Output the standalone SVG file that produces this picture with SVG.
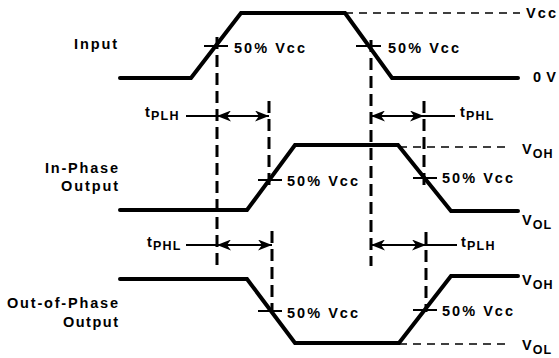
<svg xmlns="http://www.w3.org/2000/svg" width="559" height="358" viewBox="0 0 559 358">
<defs>
<style>
text{font-family:"Liberation Sans",Arial,sans-serif;font-weight:bold;font-size:14.5px;fill:#000}
.wave{fill:none;stroke:#000;stroke-width:4;stroke-linecap:round;stroke-linejoin:miter}
.ref{fill:none;stroke:#000;stroke-width:1.6;stroke-dasharray:8 6}
.vd{fill:none;stroke:#000;stroke-width:3;stroke-dasharray:12 6}
.tick{stroke:#000;stroke-width:2}
.arr{stroke:#000;stroke-width:2;fill:none;marker-start:url(#ah);marker-end:url(#ah)}
.lead{stroke:#000;stroke-width:2}
.sub{font-size:12.5px}
</style>
<marker id="ah" viewBox="0 0 14 11" refX="14" refY="5.5" markerWidth="14" markerHeight="11" markerUnits="userSpaceOnUse" orient="auto-start-reverse">
<path d="M0,0 L14,5.5 L0,11 L4,5.5 z" fill="#000"/>
</marker>
</defs>

<g id="input">
<polyline class="wave" points="120,78 191,78 241,13 345,13 392,78 518,78"/>
<line class="ref" x1="345" y1="13" x2="520" y2="13"/>
<line class="tick" x1="204" y1="46" x2="228" y2="46"/>
<line class="tick" x1="356" y1="46" x2="381" y2="46"/>
<text x="74" y="49" textLength="43" lengthAdjust="spacing">Input</text>
<text x="234" y="53" textLength="71" lengthAdjust="spacing">50% Vcc</text>
<text x="388" y="53" textLength="71" lengthAdjust="spacing">50% Vcc</text>
<text x="526" y="18" textLength="30" lengthAdjust="spacing">Vcc</text>
<text x="533" y="82" textLength="23" lengthAdjust="spacing">0 V</text>
</g>

<g id="in-phase-output">
<polyline class="wave" points="120,210 247,210 295,145 398,145 451,211 518,211"/>
<line class="ref" x1="399" y1="147" x2="510" y2="147"/>
<line class="tick" x1="258" y1="180" x2="282" y2="180"/>
<line class="tick" x1="413" y1="178" x2="437" y2="178"/>
<text x="45" y="173" textLength="73" lengthAdjust="spacing">In-Phase</text>
<text x="61" y="191" textLength="57" lengthAdjust="spacing">Output</text>
<text x="287" y="186" textLength="71" lengthAdjust="spacing">50% Vcc</text>
<text x="442" y="183" textLength="71" lengthAdjust="spacing">50% Vcc</text>
<text x="522" y="154" letter-spacing="1">V<tspan class="sub" dy="4">OH</tspan></text>
<text x="522" y="225" letter-spacing="1">V<tspan class="sub" dy="4">OL</tspan></text>
</g>

<g id="out-of-phase-output">
<polyline class="wave" points="120,279 247,279 295,343 399,343 451,276 518,276"/>
<line class="ref" x1="399" y1="344" x2="507" y2="344"/>
<line class="tick" x1="258" y1="311" x2="282" y2="311"/>
<line class="tick" x1="413" y1="310" x2="437" y2="310"/>
<text x="7" y="308" textLength="111" lengthAdjust="spacing">Out-of-Phase</text>
<text x="63" y="327" textLength="55" lengthAdjust="spacing">Output</text>
<text x="287" y="318" textLength="71" lengthAdjust="spacing">50% Vcc</text>
<text x="442" y="316" textLength="71" lengthAdjust="spacing">50% Vcc</text>
<text x="522" y="285" letter-spacing="1">V<tspan class="sub" dy="4">OH</tspan></text>
<text x="522" y="350" letter-spacing="1">V<tspan class="sub" dy="4">OL</tspan></text>
</g>

<g id="connectors">
<line class="vd" x1="217" y1="37" x2="217" y2="268"/>
<line class="vd" x1="269" y1="101" x2="269" y2="190"/>
<line class="vd" x1="272" y1="231" x2="272" y2="312"/>
<line class="vd" x1="371" y1="40" x2="371" y2="266"/>
<line class="vd" x1="424" y1="101" x2="424" y2="190"/>
<line class="vd" x1="426" y1="232" x2="426" y2="312"/>

<line class="arr" x1="217" y1="116" x2="269" y2="116"/>
<line class="lead" x1="186" y1="116" x2="217" y2="116"/>
<line class="arr" x1="371" y1="116" x2="424" y2="116"/>
<line class="lead" x1="424" y1="116" x2="455" y2="116"/>
<line class="arr" x1="217" y1="245" x2="272" y2="245"/>
<line class="lead" x1="186" y1="245" x2="217" y2="245"/>
<line class="arr" x1="371" y1="245" x2="426" y2="245"/>
<line class="lead" x1="426" y1="245" x2="457" y2="245"/>
</g>

<g id="timing-labels">
<text x="145" y="117" letter-spacing="1.2">t<tspan class="sub" dy="3">PLH</tspan></text>
<text x="460" y="117" letter-spacing="1.2">t<tspan class="sub" dy="3">PHL</tspan></text>
<text x="147" y="247" letter-spacing="1.2">t<tspan class="sub" dy="3">PHL</tspan></text>
<text x="461" y="247" letter-spacing="1.2">t<tspan class="sub" dy="3">PLH</tspan></text>
</g>
</svg>
